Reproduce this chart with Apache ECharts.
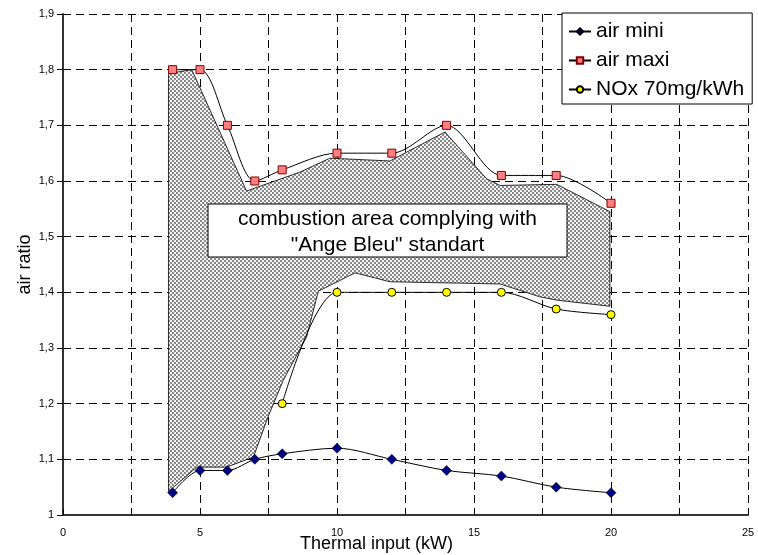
<!DOCTYPE html>
<html><head><meta charset="utf-8">
<script src="https://cdn.jsdelivr.net/npm/echarts@6/dist/echarts.min.js"></script>
<style>html,body{margin:0;padding:0;background:#fff}#c{width:758px;height:555px}</style>
</head><body><div id="c"></div>
<script>
// ---- data ----
const xMini = [4, 5, 6, 7, 8, 10, 12, 14, 16, 18, 20];
const airMini = [1.04, 1.08, 1.08, 1.10, 1.11, 1.12, 1.10, 1.08, 1.07, 1.05, 1.04];
const xMaxi = [4, 5, 6, 7, 8, 10, 12, 14, 16, 18, 20];
const airMaxi = [1.80, 1.80, 1.70, 1.60, 1.62, 1.65, 1.65, 1.70, 1.61, 1.61, 1.56];
const xNox = [8, 10, 12, 14, 16, 18, 20];
const noxLimit = [1.20, 1.40, 1.40, 1.40, 1.40, 1.37, 1.36];
// outline of the shaded "Ange Bleu" combustion area
const areaX = [3.85, 3.85, 4.70, 6.70, 8.65, 9.74, 11.93, 13.94, 15.46, 15.95, 18.02, 19.96,
               19.96, 18.02, 17.40, 15.95, 11.93, 10.66, 9.32, 8.89, 8.04, 7.49, 6.95, 5.97, 4.88];
const areaY = [1.042, 1.793, 1.800, 1.582, 1.616, 1.641, 1.636, 1.688, 1.604, 1.592, 1.594, 1.545,
               1.375, 1.386, 1.392, 1.415, 1.419, 1.435, 1.402, 1.320, 1.242, 1.177, 1.104, 1.086, 1.086];
const seriesNames = ['air mini', 'air maxi', 'NOx 70mg/kWh'];
const annotationLines = ['combustion area complying with', '"Ange Bleu" standart'];
const xTitle = 'Thermal input (kW)';
const yTitle = 'air ratio';

// ---- hatch pattern ----
const pc = document.createElement('canvas');
pc.width = 4; pc.height = 4;
const g = pc.getContext('2d');
g.fillStyle = '#f2f2f2'; g.fillRect(0, 0, 4, 4);
g.fillStyle = '#8a8a8a'; g.fillRect(0, 0, 2, 2); g.fillRect(2, 2, 2, 2);
const hatch = { image: pc, repeat: 'repeat' };

const zip = (xs, ys) => xs.map((x, i) => [x, ys[i]]);
const FONT = 'Liberation Sans, Arial, sans-serif';

const chart = echarts.init(document.getElementById('c'), null, { renderer: 'canvas' });
chart.setOption({
  animation: false,
  backgroundColor: '#fff',
  textStyle: { fontFamily: FONT },
  grid: { left: 63, right: 10, top: 14, bottom: 40, containLabel: false, outerBoundsMode: 'none' },
  legend: {
    orient: 'vertical', left: 562, top: 13,
    padding: [8, 8, 4, 6], itemGap: 8, itemWidth: 22, itemHeight: 8,
    backgroundColor: '#fff', borderColor: '#000', borderWidth: 1, borderRadius: 0,
    textStyle: { fontSize: 21, color: '#000', fontFamily: FONT },
    data: seriesNames
  },
  xAxis: {
    type: 'value', min: 0, max: 25, interval: 2.5,
    name: xTitle, nameLocation: 'middle', nameGap: 20, nameMoveOverlap: false,
    nameTextStyle: { fontSize: 18, color: '#000', padding: [0, 58, 0, 0] },
    axisLine: { onZero: false, lineStyle: { color: '#333', width: 2 } },
    axisTick: { inside: true, length: 6, lineStyle: { color: '#000' } },
    axisLabel: { fontSize: 11, color: '#000', margin: 12,
      formatter: v => (Math.abs(v % 5) < 1e-9 ? String(v) : '') },
    splitLine: { show: true, lineStyle: { color: '#000', type: [8, 5], width: 1 } }
  },
  yAxis: {
    type: 'value', min: 1, max: 1.9, interval: 0.1,
    name: yTitle, nameLocation: 'middle', nameGap: 29, nameMoveOverlap: false,
    nameTextStyle: { fontSize: 18, color: '#000' },
    axisLine: { show: true, lineStyle: { color: '#333', width: 2 } },
    axisTick: { show: true, inside: false, length: 6, lineStyle: { color: '#000' } },
    axisLabel: { fontSize: 11, color: '#000', margin: 9,
      formatter: v => (Math.abs(v - 1) < 1e-9 ? '1' : v.toFixed(1).replace('.', ',')) },
    splitLine: { show: true, lineStyle: { color: '#000', type: [8, 5], width: 1 } }
  },
  series: [
    {
      type: 'custom', name: 'area', z: 1, silent: true,
      data: zip(areaX, areaY),
      renderItem: function (params, api) {
        if (params.dataIndex !== 0) return null;
        const pts = areaX.map((x, i) => api.coord([x, areaY[i]]));
        return { type: 'polygon', shape: { points: pts },
          style: { fill: hatch, stroke: '#000', lineWidth: 0.8 } };
      }
    },
    {
      type: 'line', name: seriesNames[0], z: 3, data: zip(xMini, airMini), smooth: 0.3,
      symbol: 'diamond', symbolSize: 10, showAllSymbol: true,
      lineStyle: { color: '#000', width: 1 },
      itemStyle: { color: '#000080', borderColor: '#000', borderWidth: 0.5 }
    },
    {
      type: 'line', name: seriesNames[1], z: 3, data: zip(xMaxi, airMaxi), smooth: 0.3,
      symbol: 'rect', symbolSize: 8, showAllSymbol: true,
      lineStyle: { color: '#000', width: 1 },
      itemStyle: { color: '#ff8080', borderColor: '#800000', borderWidth: 1 }
    },
    {
      type: 'line', name: seriesNames[2], z: 3, data: zip(xNox, noxLimit), smooth: 0.3,
      symbol: 'circle', symbolSize: 8, showAllSymbol: true,
      lineStyle: { color: '#000', width: 1 },
      itemStyle: { color: '#ffff00', borderColor: '#000', borderWidth: 1 }
    }
  ],
  graphic: {
    elements: [
      { type: 'rect', z: 100, shape: { x: 208, y: 204, width: 359, height: 53 },
        style: { fill: '#fff', stroke: '#000', lineWidth: 1 } },
      { type: 'text', z: 101, x: 387.5, y: 232,
        style: { text: annotationLines.join('\n'), fontSize: 21, fontFamily: FONT,
          fill: '#000', align: 'center', verticalAlign: 'middle', lineHeight: 26 } }
    ]
  }
});
</script></body></html>
